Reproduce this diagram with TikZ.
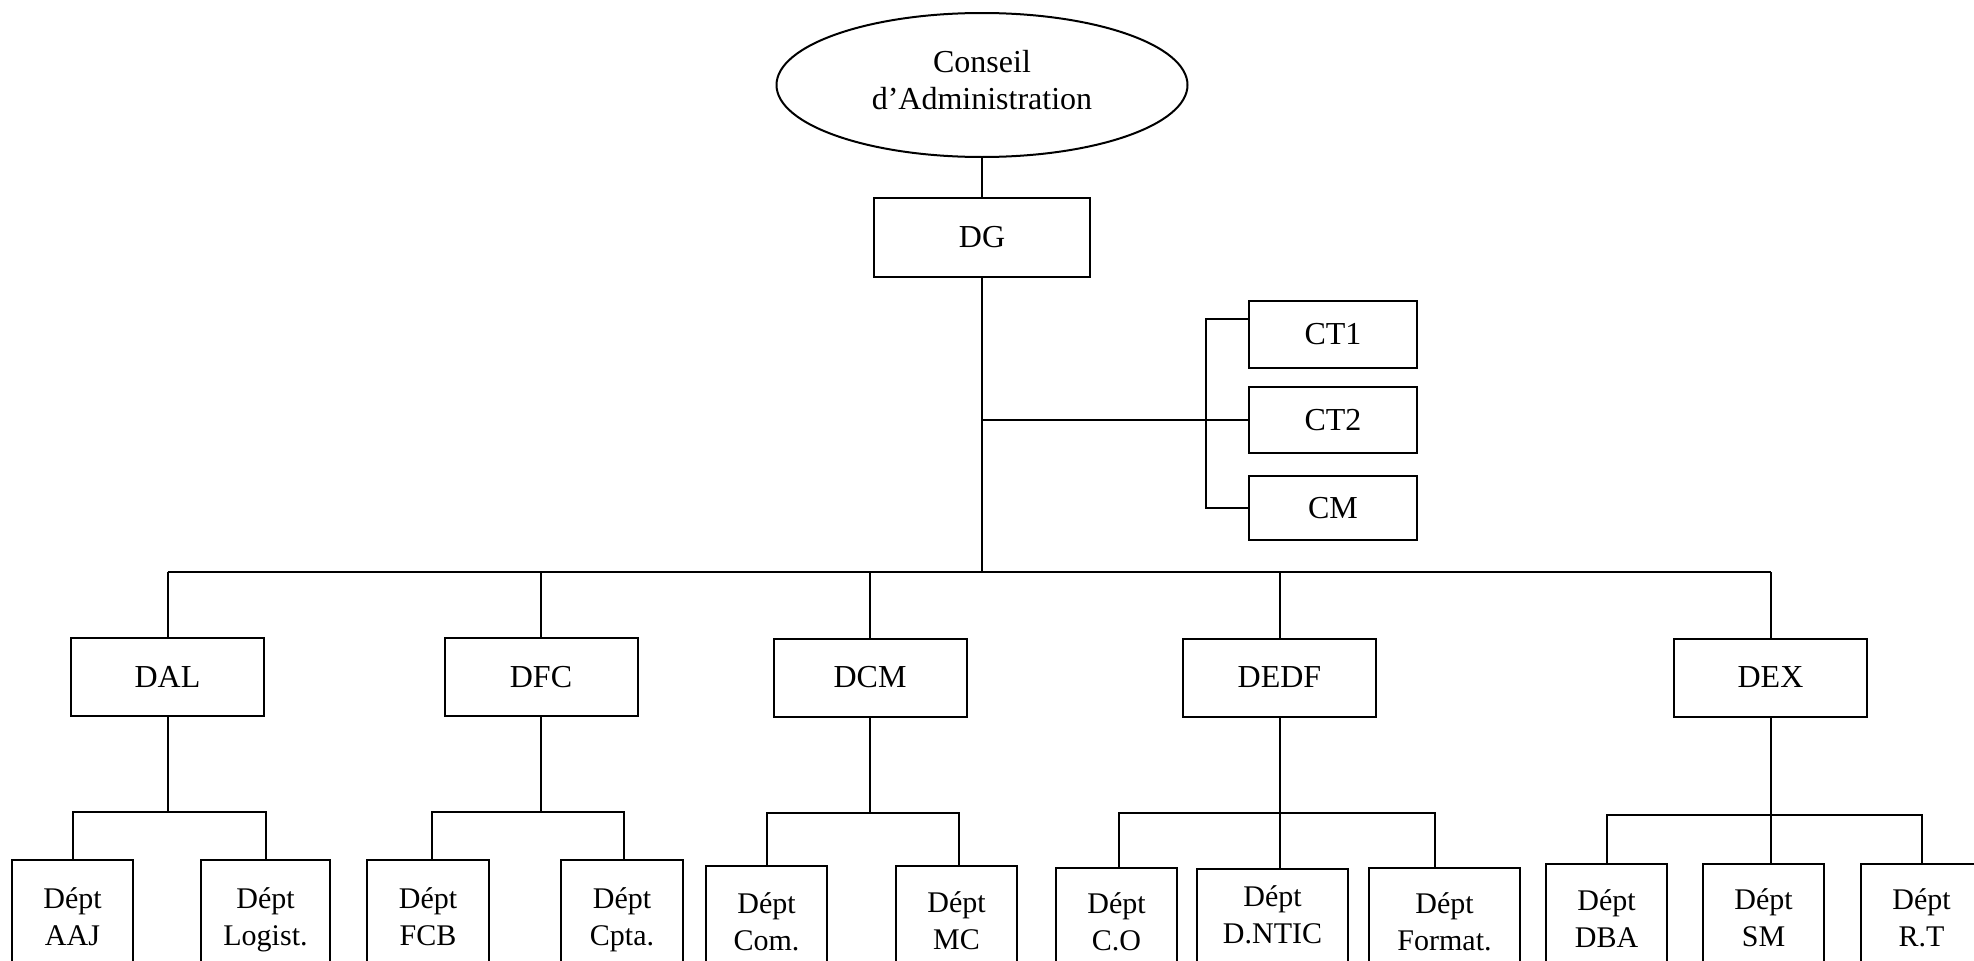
\documentclass[tikz,border=0pt]{standalone}
\usepackage{fontspec}
\setmainfont{Liberation Serif}
\usetikzlibrary{shapes.geometric}
\newcommand\orgmid{\fontsize{32}{37}\selectfont}
\newcommand\orglow{\fontsize{30}{37}\selectfont}
\begin{document}
\begin{tikzpicture}[x=1pt,y=-1pt,line width=2pt,
  box/.style={draw, rectangle, inner sep=0pt, minimum width=193pt, minimum height=78pt, font=\orgmid},
  ctbox/.style={draw, rectangle, inner sep=0pt, minimum width=168pt, minimum height=66pt, font=\orgmid},
  dept/.style={draw, rectangle, anchor=north, inner xsep=0pt, inner ysep=#1, text depth=90pt, align=center, font=\orglow}]
\useasboundingbox (0,0) rectangle (1974,961);
\clip (0,0) rectangle (1974,961);
% top
\node[ellipse, draw, minimum width=411pt, minimum height=144pt, inner sep=0pt, text depth=10pt, align=center, font=\orgmid] (CA) at (982,85) {Conseil\\d’Administration};
\node[box, minimum width=216pt, minimum height=79pt] (DG) at (982,237.5) {DG};
\node[ctbox, minimum height=67pt] (CT1) at (1333,334.5) {CT1};
\node[ctbox] (CT2) at (1333,420) {CT2};
\node[ctbox, minimum height=64pt] (CM) at (1333,508) {CM};
% level 2
\node[box] (DAL) at (167.5,677) {DAL};
\node[box] (DFC) at (541,677) {DFC};
\node[box] (DCM) at (870,677.5) {DCM};
\node[box] (DEDF) at (1279.5,677.5) {DEDF};
\node[box] (DEX) at (1770.5,677.5) {DEX};
% level 3
\node[dept=28pt, minimum width=121pt] (AAJ) at (72.5,859) {Dépt\\AAJ};
\node[dept=28pt, minimum width=129pt] (LOG) at (265.5,859) {Dépt\\Logist.};
\node[dept=28pt, minimum width=122pt] (FCB) at (428,859) {Dépt\\FCB};
\node[dept=28pt, minimum width=122pt] (CPTA) at (622,859) {Dépt\\Cpta.};
\node[dept=27pt, minimum width=121pt] (COM) at (766.5,865) {Dépt\\Com.};
\node[dept=26pt, minimum width=121pt] (MC) at (956.5,865) {Dépt\\MC};
\node[dept=25pt, minimum width=121pt] (CO) at (1116.5,867) {Dépt\\C.O};
\node[dept=17pt, minimum width=151pt] (DNTIC) at (1272.5,868) {Dépt\\D.NTIC};
\node[dept=25pt, minimum width=151pt] (FORMAT) at (1444.5,867) {Dépt\\Format.};
\node[dept=26pt, minimum width=121pt] (DBA) at (1606.5,863) {Dépt\\DBA};
\node[dept=25pt, minimum width=121pt] (SM) at (1763.5,863) {Dépt\\SM};
\node[dept=25pt, minimum width=121pt] (RT) at (1921.5,863) {Dépt\\R.T};
% helper coordinates
\coordinate (bus) at (0,572);
\coordinate (yAL) at (0,812);
\coordinate (yFC) at (0,812);
\coordinate (yCM) at (0,813);
\coordinate (yEDF) at (0,813);
\coordinate (yEX) at (0,815);
% connectors
\draw (CA.south) -- (DG.north);
\draw (DG.south) -- (DG.south |- bus);
\draw (CT2.west) -- (CT2.west -| DG.south);
\draw ([yshift=15.5pt]CT1.west) -- ++(-42,0) |- (CM.west);
\draw (DAL.north |- bus) -- (DEX.north |- bus);
\foreach \n in {DAL,DFC,DCM,DEDF,DEX} \draw (\n.north) -- (\n.north |- bus);
\draw (DAL.south) -- (DAL.south |- yAL);
\draw (AAJ.north) |- (DAL.south |- yAL) -| (LOG.north);
\draw (DFC.south) -- (DFC.south |- yFC);
\draw ([xshift=4pt]FCB.north) |- (DFC.south |- yFC) -| ([xshift=2pt]CPTA.north);
\draw (DCM.south) -- (DCM.south |- yCM);
\draw (COM.north) |- (DCM.south |- yCM) -| ([xshift=2.5pt]MC.north);
\draw (DEDF.south) -- (DNTIC.north -| DEDF.south);
\draw ([xshift=2.5pt]CO.north) |- (DEDF.south |- yEDF) -| ([xshift=-9.5pt]FORMAT.north);
\draw (DEX.south) -- (SM.north -| DEX.south);
\draw (DBA.north) |- (DEX.south |- yEX) -| (RT.north);
\end{tikzpicture}
\end{document}
